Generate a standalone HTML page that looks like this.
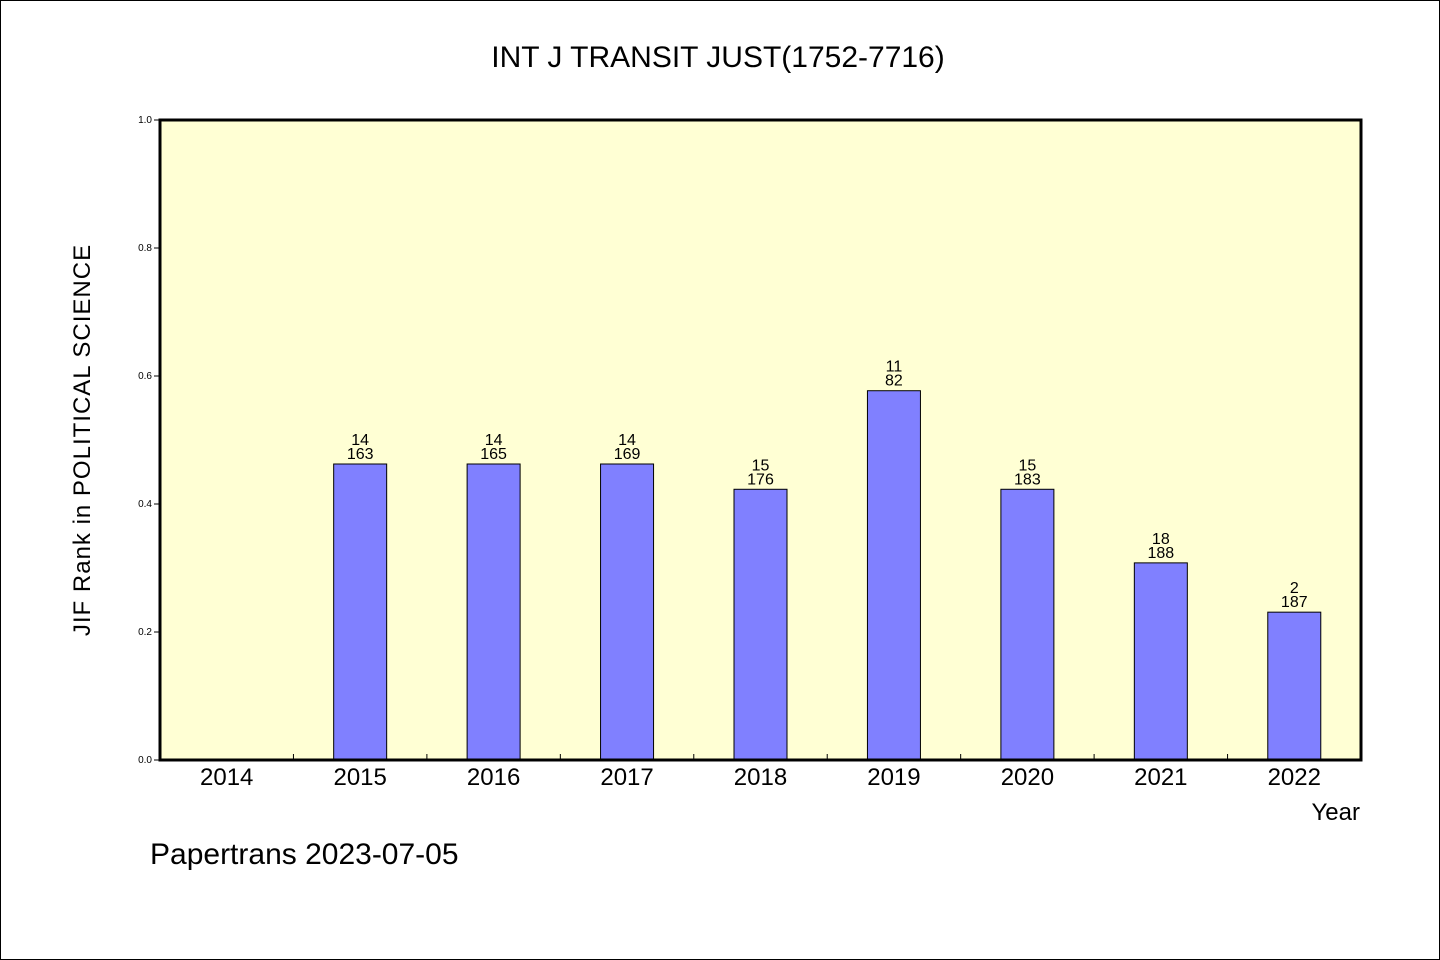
<!DOCTYPE html>
<html><head><meta charset="utf-8"><style>
body{margin:0;background:#fff}
svg{display:block}
text{font-family:"WenQuanYi Zen Hei","Liberation Sans",sans-serif;fill:#000}
</style></head><body>
<svg id="chart" width="1440" height="960" viewBox="0 0 1440 960">
<rect x="0.5" y="0.5" width="1439" height="959" fill="#fff" stroke="#000"/>
<text x="718" y="67" font-size="30" text-anchor="middle">INT J TRANSIT JUST(1752-7716)</text>
<rect x="160" y="120" width="1201" height="640" fill="#ffffd4"/>
<g id="bars"></g>
<rect x="160" y="120" width="1201" height="640" fill="none" stroke="#000" stroke-width="3"/>
<text transform="translate(90,440) rotate(-90)" font-size="24" text-anchor="middle" letter-spacing="1">JIF Rank in POLITICAL SCIENCE</text>
<text x="1360" y="820" font-size="24" text-anchor="end">Year</text>
<text x="150" y="864" font-size="30">Papertrans 2023-07-05</text>
</svg>
<script>
const years=["2014","2015","2016","2017","2018","2019","2020","2021","2022"];
const values=[null,0.4625,0.4625,0.4625,0.423,0.577,0.423,0.308,0.231];
const ranks=["","14","14","14","15","11","15","18","2"];
const totals=["","163","165","169","176","82","183","188","187"];
const yTicks=[0,0.2,0.4,0.6,0.8,1.0];
const x0=160,x1=1361,y0=760,y1=120;
const bw=(x1-x0)/years.length;
const xc=i=>x0+bw*(i+0.5);
const y=v=>y0-(y0-y1)*v;
const svg=document.getElementById('chart'),g=document.getElementById('bars');
const NS="http://www.w3.org/2000/svg";
function mk(t,a,p){const e=document.createElementNS(NS,t);for(const k in a)e.setAttribute(k,a[k]);(p||g).appendChild(e);return e;}
yTicks.forEach(v=>{
 const l=mk('line',{x1:x0-6,x2:x0,y1:y(v),y2:y(v),stroke:'#000'});
 
 
 const t=mk('text',{x:x0-8,y:y(v)+3,'font-size':10,'text-anchor':'end'});
 t.textContent=v.toFixed(1);
 
 
});
years.forEach((yr,i)=>{
 if(i>0){const tk=mk('line',{x1:x0+bw*i,x2:x0+bw*i,y1:y0,y2:y0-6,stroke:'#000'});
 
 }
 const t=mk('text',{x:xc(i),y:y0+25,'font-size':24,'text-anchor':'middle'});
 t.textContent=yr;
 
 
 const v=values[i];
 if(v==null)return;
 const r=mk('rect',{x:xc(i)-26.5,y:y(v),width:53,height:y0-y(v),fill:'#8080ff',stroke:'#000','stroke-width':1});
 
 
 const a=mk('text',{x:xc(i),y:y(v)-19,'font-size':16,'text-anchor':'middle'});
 a.textContent=ranks[i];
 
 
 const b=mk('text',{x:xc(i),y:y(v)-5,'font-size':16,'text-anchor':'middle'});
 b.textContent=totals[i];
 
 
});
</script>
</body></html>
